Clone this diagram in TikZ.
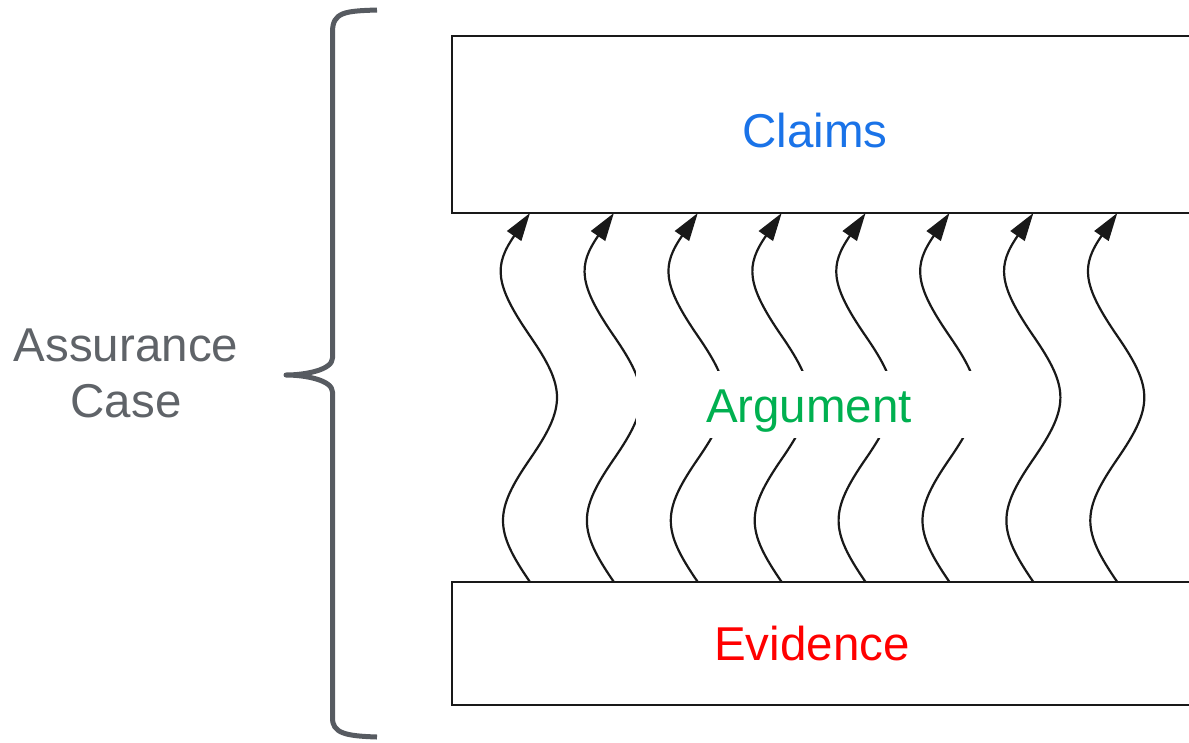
\documentclass[tikz,border=0pt]{standalone}
\usepackage{fontspec}
\setmainfont{Liberation Sans}
\usetikzlibrary{arrows.meta,calc}

\definecolor{claimblue}{HTML}{1A73E8}
\definecolor{argreen}{HTML}{00B050}
\definecolor{evred}{HTML}{FF0000}
\definecolor{casegray}{HTML}{5F6368}
\definecolor{bracegray}{HTML}{575B61}

% one wavy arrow (1.5 sine periods) from a bottom point #1 up to a top point #2
\newcommand{\wavearrow}[2]{%
  \draw[wave] (#1)
    .. controls ($(#1)+(-36,-52.2)$) and ($(#1)+(-36,-70.8)$) .. ($(#1)+(0,-123)$)
    .. controls ($(#1)+(36,-175.2)$) and ($(#1)+(36,-193.8)$) .. ($(#1)+(0,-246)$)
    .. controls ($(#1)+(-36,-298.2)$) and ($(#2)+(-36,52.2)$) .. (#2);%
}

\begin{document}
\begin{tikzpicture}[x=1pt,y=-1pt,
  box/.style={draw=black!90, line width=2.8pt, outer sep=0pt, inner sep=0pt,
    anchor=north west, minimum width=748pt},
  lbl/.style={font=\fontsize{47.5}{56}\selectfont, inner sep=0pt, anchor=base},
  wave/.style={line width=2.2pt, draw=black!90,
    -{Triangle[length=28pt,width=17pt]}},
  brace/.style={draw=bracegray, line width=5pt, line join=round}]

\useasboundingbox (0,0) rectangle (1189,742);
\clip (0,0) rectangle (1189,742);

% the two layers
\node[box, minimum height=177pt] (claims) at (452,36) {};
\node[box, minimum height=123pt] (evidence) at (452,582) {};

% arguments linking evidence to claims
\foreach \i in {0,...,7} {
  \pgfmathsetmacro\wx{78+83.9*\i}
  \coordinate (b\i) at ($(evidence.north west)+(\wx,0)$);
  \coordinate (t\i) at ($(claims.south west)+(\wx,0)$);
  \wavearrow{b\i}{t\i}
}

% clear space behind the middle label
\fill[white] (636,371) rectangle (1000,438);

\node[lbl, text=claimblue] (claimsText) at (815,147) {Claims};
\node[lbl, text=argreen] (argument) at (809,422) {Argument};
\node[lbl, text=evred] (evidenceText) at (812,660) {Evidence};

% curly brace grouping the whole case
\draw[brace] (377,10) .. controls (345,11) and (332.5,12) .. (332.5,32)
  -- (332.5,358) .. controls (332.5,370) and (305,375) .. (286,375)
  .. controls (305,375) and (332.5,380) .. (332.5,392)
  -- (332.5,718) .. controls (332.5,733) and (345,736) .. (377,737);

\node[font=\fontsize{47.5}{56}\selectfont, text=casegray, align=center,
  inner sep=0pt] (assurance) at (126,373) {Assurance\\Case};

\end{tikzpicture}
\end{document}
